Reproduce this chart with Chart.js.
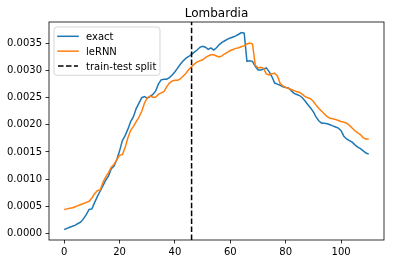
<!DOCTYPE html>
<html><head><meta charset="utf-8">
<script src="https://cdn.jsdelivr.net/npm/chart.js@4/dist/chart.umd.min.js"></script>
<style>html,body{margin:0;padding:0;background:#fff}canvas{display:block}</style>
</head><body>
<canvas id="c" width="394" height="264"></canvas>
<script>
const chartTitle = 'Lombardia';
const seriesNames = ['exact', 'leRNN'];
const splitLabel = 'train-test split';
const splitDay = 46;

const exact = [
  0.00007,0.00009,0.00011,0.00013,0.00015,0.00018,0.00021,0.00027,0.00035,0.00044,
  0.00045,0.00057,0.00068,0.00078,0.00088,0.00098,0.00106,0.00119,0.00124,0.00136,
  0.00152,0.00171,0.00180,0.00192,0.00206,0.00215,0.00230,0.00240,0.00250,0.00252,
  0.00249,0.00252,0.00256,0.00262,0.00275,0.00283,0.00284,0.00284,0.00287,0.00292,
  0.00298,0.00305,0.00312,0.00318,0.00323,0.00326,0.00330,0.00334,0.00338,0.00343,
  0.00345,0.00343,0.00339,0.00342,0.00338,0.00342,0.00348,0.00352,0.00355,0.00358,
  0.00360,0.00362,0.00364,0.00367,0.00370,0.00369,0.00317,0.00318,0.00317,0.00308,
  0.00301,0.00301,0.00303,0.00305,0.00298,0.00289,0.00277,0.00275,0.00273,0.00270,
  0.00269,0.00268,0.00263,0.00258,0.00256,0.00254,0.00250,0.00244,0.00237,0.00231,
  0.00224,0.00214,0.00207,0.00203,0.00203,0.00202,0.00200,0.00198,0.00196,0.00194,
  0.00189,0.00179,0.00174,0.00171,0.00168,0.00163,0.00159,0.00156,0.00152,0.00148,
  0.00146
];
const leRNN = [
  0.00044,0.00045,0.00046,0.00047,0.00049,0.00051,0.00053,0.00055,0.00057,0.00059,
  0.00065,0.00073,0.00079,0.00080,0.00094,0.00104,0.00112,0.00122,0.00127,0.00136,
  0.00144,0.00145,0.00158,0.00176,0.00190,0.00197,0.00206,0.00214,0.00225,0.00240,
  0.00250,0.00253,0.00251,0.00251,0.00256,0.00259,0.00261,0.00270,0.00277,0.00281,
  0.00282,0.00282,0.00285,0.00290,0.00295,0.00302,0.00307,0.00312,0.00316,0.00318,
  0.00320,0.00324,0.00327,0.00329,0.00329,0.00327,0.00325,0.00327,0.00331,0.00334,
  0.00337,0.00339,0.00341,0.00342,0.00344,0.00346,0.00349,0.00351,0.00349,0.00310,
  0.00305,0.00306,0.00304,0.00294,0.00292,0.00294,0.00295,0.00290,0.00276,0.00272,
  0.00269,0.00267,0.00265,0.00263,0.00261,0.00260,0.00256,0.00252,0.00250,0.00248,
  0.00243,0.00236,0.00230,0.00225,0.00220,0.00215,0.00212,0.00211,0.00210,0.00208,
  0.00206,0.00205,0.00203,0.00199,0.00194,0.00189,0.00185,0.00182,0.00176,0.00174,
  0.00174
];
const xTicks = [0, 20, 40, 60, 80, 100];
const yTicks = [0, 0.0005, 0.0010, 0.0015, 0.0020, 0.0025, 0.0030, 0.0035];
const xRange = [-5.5, 115.5];
const yRange = [-0.000124, 0.003896];

const toPoints = arr => arr.map((v, i) => ({ x: i, y: v }));

Chart.defaults.font.family = "'DejaVu Sans', sans-serif";
Chart.defaults.font.size = 10;
Chart.defaults.color = '#000';

const decor = {
  id: 'decor',
  afterDraw(chart) {
    const ctx = chart.ctx, a = chart.chartArea;
    ctx.save();
    // frame
    ctx.strokeStyle = '#000';
    ctx.lineWidth = 0.8;
    ctx.strokeRect(a.left, a.top, a.right - a.left, a.bottom - a.top);
    // title
    ctx.fillStyle = '#000';
    ctx.font = "12px 'DejaVu Sans', sans-serif";
    ctx.textAlign = 'center';
    ctx.textBaseline = 'alphabetic';
    ctx.fillText(chartTitle, (a.left + a.right) / 2, a.top - 5.5);
    // legend
    const bx = a.left + 5, by = a.top + 5, bw = 106, bh = 48.3, r = 3;
    ctx.beginPath();
    ctx.moveTo(bx + r, by);
    ctx.arcTo(bx + bw, by, bx + bw, by + bh, r);
    ctx.arcTo(bx + bw, by + bh, bx, by + bh, r);
    ctx.arcTo(bx, by + bh, bx, by, r);
    ctx.arcTo(bx, by, bx + bw, by, r);
    ctx.closePath();
    ctx.fillStyle = 'rgba(255,255,255,0.8)';
    ctx.fill();
    ctx.strokeStyle = 'rgba(204,204,204,0.8)';
    ctx.lineWidth = 1;
    ctx.stroke();
    ctx.font = "10px 'DejaVu Sans', sans-serif";
    ctx.textAlign = 'left';
    chart.data.datasets.forEach((ds, k) => {
      const y = by + 9.3 + k * 14.85;
      ctx.beginPath();
      ctx.strokeStyle = ds.borderColor;
      ctx.lineWidth = ds.borderWidth;
      ctx.setLineDash(ds.borderDash || []);
      ctx.lineCap = ds.borderDash ? 'butt' : 'square';
      ctx.moveTo(bx + 4, y);
      ctx.lineTo(bx + 24, y);
      ctx.stroke();
      ctx.setLineDash([]);
      ctx.fillStyle = '#000';
      ctx.fillText(ds.label, bx + 32, y + 3.5);
    });
    ctx.restore();
  }
};

new Chart(document.getElementById('c'), {
  type: 'line',
  data: {
    datasets: [
      { label: seriesNames[0], data: toPoints(exact), borderColor: '#1f77b4', borderWidth: 1.5, pointRadius: 0, tension: 0, order: 3 },
      { label: seriesNames[1], data: toPoints(leRNN), borderColor: '#ff7f0e', borderWidth: 1.5, pointRadius: 0, tension: 0, order: 2 },
      { label: splitLabel, data: [{ x: splitDay, y: yRange[0] }, { x: splitDay, y: yRange[1] }], borderColor: '#000', borderWidth: 1.5, borderDash: [5.55, 2.4], pointRadius: 0, order: 1 }
    ]
  },
  options: {
    responsive: false,
    animation: false,
    devicePixelRatio: 1,
    layout: { padding: { top: 22, right: 10, left: 0, bottom: 0 } },
    plugins: { legend: { display: false }, title: { display: false }, tooltip: { enabled: false } },
    scales: {
      x: {
        type: 'linear', min: xRange[0], max: xRange[1],
        afterBuildTicks: s => { s.ticks = xTicks.map(v => ({ value: v })); },
        afterFit: s => { s.height = 24; },
        grid: { drawOnChartArea: false, drawTicks: true, tickLength: 3.5, tickWidth: 0.8, tickColor: '#000' },
        border: { display: false },
        ticks: { padding: 2.5, maxRotation: 0, autoSkip: false, callback: v => String(v), color: '#000' }
      },
      y: {
        type: 'linear', min: yRange[0], max: yRange[1],
        afterBuildTicks: s => { s.ticks = yTicks.map(v => ({ value: v })); },
        afterFit: s => { s.width = 49; },
        grid: { drawOnChartArea: false, drawTicks: true, tickLength: 3.5, tickWidth: 0.8, tickColor: '#000' },
        border: { display: false },
        ticks: { padding: 3.5, autoSkip: false, callback: v => v.toFixed(4), color: '#000' }
      }
    }
  },
  plugins: [decor]
});
</script>
</body></html>
